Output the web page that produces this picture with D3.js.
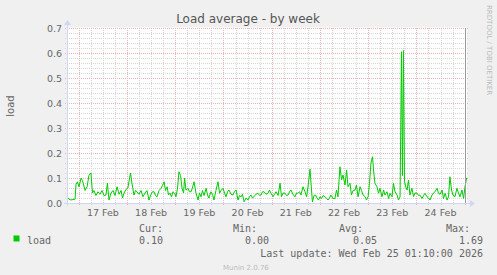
<!DOCTYPE html>
<html>
<head>
<meta charset="utf-8">
<script src="https://cdn.jsdelivr.net/npm/d3@7"></script>
<style>
  html, body { margin: 0; padding: 0; background: #f0f0f0; }
  svg { display: block; }
  text { font-family: "DejaVu Sans", sans-serif; fill: #666; }
  .mono { font-family: "DejaVu Sans Mono", monospace; }
  .grid line { shape-rendering: crispEdges; }
</style>
</head>
<body>
<script>
// data (hours after the graph start, load value)
const hours = [0, 1, 2, 3.5, 4, 4.5, 5.2, 6, 7, 7.7, 9, 10, 10.9, 11.9, 12.7, 13.4, 14.4, 15.4, 16.4, 17.4,
  18.4, 19.4, 20.1, 20.9, 21.9, 22.9, 23.9, 24.9, 25.9, 26.9, 27.6, 28.4, 29.4, 30.3, 30.8, 31.6, 32.3, 33.3, 34.1, 34.8,
  35.8, 36.8, 37.8, 38.8, 39.8, 40.8, 41.8, 42.5, 43.3, 44, 44.8, 45.8, 46.8, 47.5, 48.3, 49, 49.8, 50.5, 51.2, 52,
  52.7, 53.5, 54.2, 55, 55.7, 56.5, 57.2, 58, 58.5, 59.2, 60.2, 60.9, 61.7, 62.4, 63.2, 64.2, 65.2, 65.9, 66.7, 67.4,
  68.2, 69.2, 69.9, 70.6, 71.6, 72.4, 73.1, 74.1, 75.1, 75.9, 76.6, 77.6, 78.4, 79.1, 79.9, 80.6, 81.6, 82.6, 83.3, 84.1,
  85.1, 85.8, 86.6, 87.3, 88.1, 89.1, 90, 90.8, 91.5, 92.3, 93, 94, 95, 95.8, 96.5, 97.3, 98, 99, 100, 100.7,
  101.5, 102.5, 103.2, 104, 105, 106, 106.7, 107.5, 108.5, 109.2, 110, 110.7, 111.4, 112.4, 113.4, 114.2, 114.9, 115.7, 116.4, 117.4,
  118.4, 119.2, 119.9, 120.9, 121.4, 122.1, 122.9, 123.6, 124.4, 125.1, 125.9, 126.6, 127.4, 128.4, 129.1, 129.9, 130.6, 131.3, 132.3, 133.3,
  134.1, 134.8, 135.8, 136.6, 137.3, 138.3, 139.1, 139.8, 140.8, 141.5, 142.3, 143.3, 144, 144.8, 145.8, 146.5, 147.3, 148.3, 149, 149.8,
  150.5, 151.2, 152, 152.5, 153.2, 154.2, 155, 155.7, 156.7, 157.5, 158.2, 159.2, 160, 160.7, 161.7, 162.4, 163.2, 164.2, 164.9, 165.7,
  166.4, 166.9, 167.4, 167.9, 168.7, 169.2, 169.9, 170.6, 171.6, 172.4, 173.1, 174.1, 174.9, 175.6, 176.6, 177.4, 178.1, 179.1, 179.9, 180.6,
  181.6, 182.3, 183.1, 184.1, 184.8, 185.6, 186.6, 187.3, 188.1, 189.1, 189.8, 190.5, 191.3, 192, 193, 194, 194.8, 195.5, 196.5, 197.3,
  198, 198.8];
const load = [0.025, 0.015, 0.012, 0.015, 0.015, 0.075, 0.085, 0.065, 0.1, 0.09, 0.05, 0.065, 0.11, 0.12, 0.04, 0.05, 0.03, 0.045, 0.035, 0.05,
  0.03, 0.032, 0.08, 0.012, 0.04, 0.05, 0.03, 0.065, 0.035, 0.05, 0.02, 0.04, 0.055, 0.06, 0.085, 0.12, 0.08, 0.032, 0.05, 0.045,
  0.035, 0.05, 0.025, 0.04, 0.05, 0.012, 0.035, 0.045, 0.045, 0.03, 0.025, 0.05, 0.059, 0.07, 0.085, 0.05, 0.065, 0.032, 0.04, 0.025,
  0.045, 0.039, 0.025, 0.06, 0.125, 0.11, 0.06, 0.04, 0.1, 0.052, 0.059, 0.045, 0.045, 0.06, 0.085, 0.039, 0.012, 0.04, 0.025, 0.05,
  0.03, 0.059, 0.032, 0.02, 0.045, 0.035, 0.012, 0.05, 0.085, 0.039, 0.05, 0.059, 0.04, 0.025, 0.045, 0.052, 0.035, 0.032, 0.045, 0.052,
  0.012, 0.03, 0.025, 0.035, 0.005, 0.02, 0.012, 0.025, 0.032, 0.02, 0.025, 0.035, 0.039, 0.03, 0.032, 0.045, 0.045, 0.035, 0.039, 0.052,
  0.039, 0.025, 0.035, 0.045, 0.03, 0.079, 0.025, 0.04, 0.039, 0.03, 0.032, 0.045, 0.052, 0.035, 0.025, 0.04, 0.039, 0.045, 0.032, 0.065,
  0.045, 0.025, 0.065, 0.135, 0.079, 0.005, 0.03, 0.032, 0.02, 0.012, 0.025, 0.018, 0.03, 0.025, 0.018, 0.012, 0.02, 0.032, 0.018, 0.018,
  0.052, 0.025, 0.145, 0.092, 0.112, 0.072, 0.132, 0.065, 0.079, 0.032, 0.05, 0.052, 0.072, 0.025, 0.065, 0.05, 0.032, 0.025, 0.012, 0.025,
  0.079, 0.159, 0.185, 0.132, 0.079, 0.065, 0.039, 0.059, 0.025, 0.052, 0.032, 0.045, 0.018, 0.039, 0.025, 0.079, 0.045, 0.032, 0.012, 0.025,
  0.605, 0.11, 0.61, 0.085, 0.06, 0.052, 0.092, 0.032, 0.059, 0.025, 0.04, 0.039, 0.03, 0.032, 0.018, 0.03, 0.039, 0.025, 0.02, 0.012,
  0.032, 0.04, 0.045, 0.059, 0.039, 0.035, 0.052, 0.018, 0.039, 0.012, 0.025, 0.105, 0.052, 0.032, 0.025, 0.059, 0.039, 0.025, 0.052, 0.018,
  0.065, 0.1];
const yTicks = [0.0, 0.1, 0.2, 0.3, 0.4, 0.5, 0.6, 0.7];
const legendHeads = ["Cur:", "Min:", "Avg:", "Max:"];
const legendValues = ["0.10", "0.00", "0.05", "1.69"];
const lastUpdate = "Last update: Wed Feb 25 01:10:00 2026";

const width = 497, height = 275;
const plotL = 67, plotR = 467, plotT = 28, plotB = 203;
const endTime = new Date(2026, 1, 25, 1, 10);
const spanHours = 199;
const startTime = d3.timeHour.offset(endTime, -spanHours);

const svg = d3.select('body').append('svg')
    .attr('width', width).attr('height', height);

svg.append('rect').attr('width', width).attr('height', height).attr('fill', '#f0f0f0');
svg.append('rect')
    .attr('x', plotL).attr('y', plotT - 0.5)
    .attr('width', plotR - plotL).attr('height', plotB - plotT + 0.5)
    .attr('fill', '#fff');

const x = d3.scaleTime().domain([startTime, endTime]).range([plotL, plotR]);
const y = d3.scaleLinear().domain([0, 0.7]).range([plotB, plotT]);

const grid = svg.append('g').attr('class', 'grid');
const minorCol = '#d6d6d6', majorCol = '#eab4b4';

// minor horizontal grid every 0.02
const minorY = d3.range(0, 0.7001, 0.02).filter(v => Math.abs(Math.round(v * 10) - v * 10) > 1e-6);
grid.selectAll('line.hmin').data(minorY).enter().append('line')
    .attr('x1', plotL - 2).attr('x2', plotR + 2)
    .attr('y1', d => Math.round(y(d)) + 0.5).attr('y2', d => Math.round(y(d)) + 0.5)
    .attr('stroke', minorCol).attr('stroke-dasharray', '1,1');

// minor vertical grid every 6 hours
const minorX = d3.timeHour.every(6).range(startTime, endTime).filter(d => d.getHours() !== 0);
grid.selectAll('line.vmin').data(minorX).enter().append('line')
    .attr('x1', d => Math.round(x(d)) + 0.5).attr('x2', d => Math.round(x(d)) + 0.5)
    .attr('y1', plotT).attr('y2', plotB + 2)
    .attr('stroke', minorCol).attr('stroke-dasharray', '1,1');

// major grid
grid.selectAll('line.hmaj').data(yTicks.slice(1)).enter().append('line')
    .attr('x1', plotL - 2).attr('x2', plotR + 2)
    .attr('y1', d => Math.round(y(d)) + 0.5).attr('y2', d => Math.round(y(d)) + 0.5)
    .attr('stroke', majorCol).attr('stroke-dasharray', '1,1');

const days = d3.timeDay.range(d3.timeDay.ceil(startTime), endTime);
grid.selectAll('line.vmaj').data(days).enter().append('line')
    .attr('x1', d => Math.round(x(d)) + 0.5).attr('x2', d => Math.round(x(d)) + 0.5)
    .attr('y1', plotT).attr('y2', plotB + 3)
    .attr('stroke', majorCol).attr('stroke-dasharray', '1,1');

// y tick labels
svg.append('g').selectAll('text').data(yTicks).enter().append('text')
    .attr('x', plotL - 5).attr('y', d => y(d) + 3.5)
    .attr('text-anchor', 'end')
    .style('font-size', '9.5px')
    .text(d => d.toFixed(1));

// x day labels, centred at noon
const noons = days.slice(0, -1).map(d => d3.timeHour.offset(d, 12));
svg.append('g').selectAll('text').data(noons).enter().append('text')
    .attr('x', d => x(d)).attr('y', plotB + 13)
    .attr('text-anchor', 'middle')
    .style('font-size', '9.5px')
    .text(d => d3.timeFormat('%d Feb')(d));

// the load line
const pts = hours.map((h, i) => ({ t: new Date(startTime.getTime() + h * 3600e3), v: load[i] }));
const line = d3.line().x(d => x(d.t)).y(d => y(d.v));
svg.append('path')
    .datum(pts)
    .attr('d', line)
    .attr('fill', 'none')
    .attr('stroke', '#00cc00')
    .attr('stroke-width', 1);

// now marker at right edge
svg.append('line')
    .attr('x1', plotR - 1.5).attr('x2', plotR - 1.5)
    .attr('y1', plotT).attr('y2', plotB)
    .attr('stroke', '#999');

// axes and arrows
const axisCol = '#cfd6f8';
svg.append('line').attr('x1', plotL - 3).attr('x2', plotR + 4)
    .attr('y1', plotB + 0.5).attr('y2', plotB + 0.5).attr('stroke', axisCol);
svg.append('line').attr('x1', plotL + 0.5).attr('x2', plotL + 0.5)
    .attr('y1', plotB + 3).attr('y2', plotT - 4).attr('stroke', axisCol);
svg.append('path')
    .attr('d', `M${plotR + 3},${plotB - 3} L${plotR + 8},${plotB + 0.5} L${plotR + 3},${plotB + 4} Z`)
    .attr('fill', axisCol);
svg.append('path')
    .attr('d', `M${plotL - 3},${plotT - 3} L${plotL + 0.5},${plotT - 8} L${plotL + 4},${plotT - 3} Z`)
    .attr('fill', axisCol);

// title and side texts
svg.append('text')
    .attr('x', 248).attr('y', 23)
    .attr('text-anchor', 'middle')
    .style('font-size', '12px')
    .style('fill', '#555')
    .text('Load average - by week');

svg.append('text')
    .attr('transform', 'translate(14,106) rotate(-90)')
    .attr('text-anchor', 'middle')
    .style('font-size', '10px')
    .text('load');

svg.append('text')
    .attr('transform', 'translate(487,5) rotate(90)')
    .attr('text-anchor', 'start')
    .style('font-size', '7px')
    .style('fill', '#bbb')
    .text('RRDTOOL / TOBI OETIKER');

// legend
svg.append('rect')
    .attr('x', 13.5).attr('y', 235.5).attr('width', 6).attr('height', 6)
    .attr('fill', '#00cc00');
svg.append('text').attr('class', 'mono')
    .attr('x', 27).attr('y', 244)
    .style('font-size', '10px')
    .text('load');

const headX = [163, 257, 363, 470];
const valX = [163, 269, 377, 483];
svg.append('g').selectAll('text').data(legendHeads).enter().append('text')
    .attr('class', 'mono')
    .attr('x', (d, i) => headX[i]).attr('y', 232)
    .attr('text-anchor', 'end')
    .style('font-size', '10px')
    .text(d => d);
svg.append('g').selectAll('text').data(legendValues).enter().append('text')
    .attr('class', 'mono')
    .attr('x', (d, i) => valX[i]).attr('y', 244)
    .attr('text-anchor', 'end')
    .style('font-size', '10px')
    .text(d => d);

svg.append('text').attr('class', 'mono')
    .attr('x', 483).attr('y', 257)
    .attr('text-anchor', 'end')
    .style('font-size', '10px')
    .text(lastUpdate);

svg.append('text')
    .attr('x', 223).attr('y', 270)
    .style('font-size', '7px')
    .style('fill', '#bbb')
    .text('Munin 2.0.76');
</script>
</body>
</html>
